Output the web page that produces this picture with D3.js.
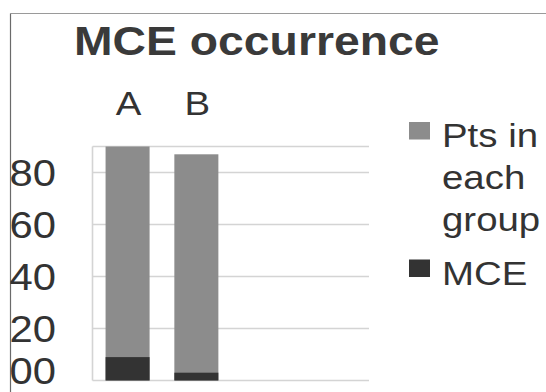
<!DOCTYPE html>
<html>
<head>
<meta charset="utf-8">
<script src="https://cdn.jsdelivr.net/npm/d3@7"></script>
<style>
  html, body { margin: 0; padding: 0; background: #fff; }
  svg { display: block; font-family: "Liberation Sans", Arial, sans-serif; }
</style>
</head>
<body>
<svg id="chart" width="546" height="392"></svg>
<script>
// Groups and counts
const categories = ["A", "B"];
const ptsInGroup = [90, 87];   // patients in each group
const mceCount = [9, 3];       // MCE cases per group
const yTickValues = [0, 20, 40, 60, 80];
const yTickLabels = ["00", "20", "40", "60", "80"];
const seriesNames = ["Pts in each group", "MCE"];
const seriesColors = ["#8c8c8c", "#333333"];

const svg = d3.select("#chart");
const sx = 1.13; // horizontal text stretch used throughout

const plot = { left: 92.5, right: 369, top: 146.5, bottom: 380.5 };

// four slots on the category axis, two of them used
const x = d3.scaleBand()
  .domain(d3.range(4))
  .range([plot.left, plot.right])
  .paddingInner(0.36)
  .paddingOuter(0.19);

const y = d3.scaleLinear()
  .domain([0, 90])
  .range([plot.bottom, plot.top]);

// outer frame (top and left edges)
svg.append("line").attr("x1", 10.5).attr("x2", 546).attr("y1", 13.5).attr("y2", 13.5)
  .attr("stroke", "#9a9a9a").attr("stroke-width", 1.2);
svg.append("line").attr("x1", 10.5).attr("x2", 10.5).attr("y1", 13.5).attr("y2", 392)
  .attr("stroke", "#6a6a6a").attr("stroke-width", 1.2);

function stretchedText(g, txt, tx, ty, size, anchor, weight, fill) {
  return g.append("text")
    .attr("transform", `translate(${tx},${ty}) scale(${sx},1)`)
    .attr("text-anchor", anchor)
    .attr("font-size", size)
    .attr("font-weight", weight || "normal")
    .attr("fill", fill || "#333")
    .text(txt);
}

// title
stretchedText(svg, "MCE occurrence", 74, 54.5, 41, "start", "bold", "#3a3a3a");

// gridlines
const grid = svg.append("g");
grid.selectAll("line.grid")
  .data(yTickValues.concat([90]))
  .join("line")
  .attr("x1", plot.left).attr("x2", plot.right)
  .attr("y1", d => y(d)).attr("y2", d => y(d))
  .attr("stroke", "#d4d4d4").attr("stroke-width", 1.6);
// plot area left edge
grid.append("line")
  .attr("x1", plot.left).attr("x2", plot.left)
  .attr("y1", plot.top).attr("y2", plot.bottom)
  .attr("stroke", "#d4d4d4").attr("stroke-width", 1.6);

// y tick labels (the lowest one kept inside the frame)
const yAxis = svg.append("g");
yTickValues.forEach((v, i) => {
  stretchedText(yAxis, yTickLabels[i], 56, Math.min(y(v) + 13, 384), 37, "end", "normal", "#333");
});

// bars: group size behind, MCE count in front
const bars = svg.append("g");
bars.selectAll("rect.pts")
  .data(ptsInGroup)
  .join("rect")
  .attr("class", "pts")
  .attr("x", (d, i) => x(i))
  .attr("width", x.bandwidth())
  .attr("y", d => y(d))
  .attr("height", d => y(0) - y(d))
  .attr("fill", seriesColors[0]);
bars.selectAll("rect.mce")
  .data(mceCount)
  .join("rect")
  .attr("class", "mce")
  .attr("x", (d, i) => x(i))
  .attr("width", x.bandwidth())
  .attr("y", d => y(d))
  .attr("height", d => y(0) - y(d))
  .attr("fill", seriesColors[1]);

// category labels above the plot
const cats = svg.append("g");
categories.forEach((c, i) => {
  stretchedText(cats, c, x(i) + x.bandwidth() / 2 + 1, 114.5, 34, "middle", "normal", "#333");
});

// legend
const legend = svg.append("g");
const legendRows = [
  { lines: ["Pts in", "each", "group"], color: seriesColors[0], top: 122 },
  { lines: ["MCE"], color: seriesColors[1], top: 259.5 }
];
legendRows.forEach(r => {
  legend.append("rect")
    .attr("x", 409).attr("y", r.top)
    .attr("width", 21).attr("height", 17.5)
    .attr("fill", r.color);
  r.lines.forEach((t, j) => {
    stretchedText(legend, t, 442, r.top + 25 + j * 42, 34, "start", "normal", "#333");
  });
});
</script>
</body>
</html>
